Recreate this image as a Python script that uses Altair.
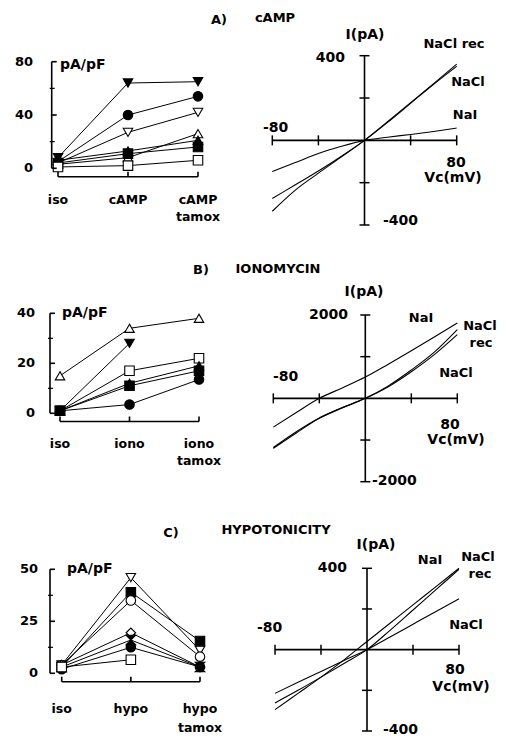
import altair as alt
import pandas as pd

# ---------------- data: left panels (current density, pA/pF) ----------------
A_cats = ["iso", "cAMP", "cAMP tamox"]
A_tri_down_filled = [8, 64, 65]
A_circle_filled = [5, 40, 54]
A_tri_down_open = [4, 27, 42]
A_tri_up_open = [3, 8, 26]
A_tri_up_filled = [6, 13, 21]
A_square_filled = [4, 11, 16]
A_square_open = [1, 2, 6]

B_cats = ["iso", "iono", "iono tamox"]
B_tri_up_open = [15, 34, 38]
B_tri_down_filled = [1, 28, None]
B_square_open = [1, 17, 22]
B_tri_up_filled = [1, 12, 19]
B_square_filled = [1, 11, 17]
B_circle_filled = [1, 3.5, 13.5]

C_cats = ["iso", "hypo", "hypo tamox"]
C_tri_down_open = [4, 46, 11]
C_square_filled = [3, 39, 15.5]
C_circle_open = [4, 35, 8]
C_diamond_open = [4, 19.5, 3]
C_hourglass_filled = [3, 16, 3]
C_circle_filled = [2, 12.5, 3]
C_square_open = [3, 6.5, None]

# ---------------- data: right panels (I-V curves) ----------------
V_mV = [-80, -60, -40, -20, 0, 20, 40, 60, 80]
A_NaCl_rec = [-335, -235, -155, -78, 0, 88, 178, 268, 360]
A_NaCl = [-275, -210, -145, -75, 0, 85, 175, 265, 350]
A_NaI = [-147, -105, -62, -28, 0, 15, 28, 42, 58]

B_NaI = [-690, -340, 0, 250, 510, 820, 1140, 1470, 1810]
B_NaCl_rec = [-1180, -800, -470, -220, 0, 300, 680, 1110, 1650]
B_NaCl = [-1200, -830, -480, -230, 0, 280, 640, 1050, 1530]

C_NaI = [-295, -215, -135, -50, 40, 130, 220, 310, 400]
C_NaCl_rec = [-262, -200, -135, -68, 0, 95, 195, 295, 395]
C_NaCl = [-215, -160, -107, -53, 0, 62, 125, 188, 250]

# ---------------- styling ----------------
FONT = "DejaVu Sans"
HOURGLASS = "M-1,-1L1,-1L-1,1L1,1Z"
MARKERS = {
    "tri_down_filled": ("triangle-down", "black"),
    "tri_down_open": ("triangle-down", "white"),
    "tri_up_filled": ("triangle-up", "black"),
    "tri_up_open": ("triangle-up", "white"),
    "circle_filled": ("circle", "black"),
    "circle_open": ("circle", "white"),
    "square_filled": ("square", "black"),
    "square_open": ("square", "white"),
    "diamond_open": ("diamond", "white"),
    "hourglass_filled": (HOURGLASS, "black"),
}

W, H = 490, 731


def series_frame(series):
    rows = []
    for key, vals in series:
        shape, fill = MARKERS[key]
        for i, v in enumerate(vals):
            if v is None:
                continue
            rows.append(dict(s=key, i=i, v=v, shape=shape, fill=fill))
    return pd.DataFrame(rows)


def text_layer(rows, size, align="center"):
    df = pd.DataFrame(rows, columns=["t", "px", "py"])
    return alt.Chart(df).mark_text(
        font=FONT, fontWeight="bold", fontSize=size, align=align, baseline="middle", color="black"
    ).encode(
        x=alt.X("px:Q", scale=None, axis=None),
        y=alt.Y("py:Q", scale=None, axis=None),
        text="t:N",
    )


def left_panel(cats, series, ymax, major, minor, L):
    n = len(cats)
    xs = alt.Scale(domain=[0, n - 1], range=[L["x0"], L["x1"]], nice=False, zero=False)
    ys = alt.Scale(domain=[0, ymax], range=[L["y0"], L["y1"]], nice=False, zero=False)
    df = series_frame(series)
    X = alt.X("i:Q", scale=xs, axis=None)
    Y = alt.Y("v:Q", scale=ys, axis=None)
    layers = []
    layers.append(alt.Chart(df).mark_line(color="black", strokeWidth=1).encode(X, Y, detail="s:N"))
    layers.append(
        alt.Chart(df).mark_point(filled=True, size=90, stroke="black", strokeWidth=1.1, opacity=1).encode(
            X, Y, shape=alt.Shape("shape:N", scale=None), fill=alt.Fill("fill:N", scale=None)
        )
    )
    # y axis
    ext = pd.DataFrame({"lo": [0], "hi": [ymax]})
    layers.append(alt.Chart(ext).mark_rule(color="black", strokeWidth=1.6).encode(
        x=alt.value(L["ax"]), y=alt.Y("lo:Q", scale=ys, axis=None), y2="hi:Q"))
    mj = pd.DataFrame({"v": major, "t": [str(m) for m in major]})
    layers.append(alt.Chart(mj).mark_rule(color="black", strokeWidth=1.6).encode(
        x=alt.value(L["ax"]), x2=alt.value(L["ax"] + 5), y=alt.Y("v:Q", scale=ys, axis=None)))
    mn = pd.DataFrame({"v": minor})
    layers.append(alt.Chart(mn).mark_rule(color="black", strokeWidth=1.2).encode(
        x=alt.value(L["ax"] - 2), x2=alt.value(L["ax"] + 3), y=alt.Y("v:Q", scale=ys, axis=None)))
    layers.append(alt.Chart(mj).mark_text(font=FONT, fontWeight="bold", fontSize=13, align="right",
                                          baseline="middle").encode(
        x=alt.value(L["lab_r"]), y=alt.Y("v:Q", scale=ys, axis=None), text="t:N"))
    # x axis
    xext = pd.DataFrame({"lo": [0], "hi": [n - 1]})
    layers.append(alt.Chart(xext).mark_rule(color="black", strokeWidth=1.6).encode(
        x=alt.X("lo:Q", scale=xs, axis=None), x2="hi:Q", y=alt.value(L["xa"])))
    parts = [c.split(" ") for c in cats]
    xl = pd.DataFrame({"i": list(range(n)),
                       "l1": [p[0] for p in parts],
                       "l2": [p[1] if len(p) > 1 else "" for p in parts]})
    layers.append(alt.Chart(xl).mark_rule(color="black", strokeWidth=1.6).encode(
        x=alt.X("i:Q", scale=xs, axis=None), y=alt.value(L["xa"]), y2=alt.value(L["xa"] - 5)))
    layers.append(alt.Chart(xl).mark_text(font=FONT, fontWeight="bold", fontSize=12.5, baseline="middle").encode(
        x=alt.X("i:Q", scale=xs, axis=None), y=alt.value(L["l1"]), text="l1:N"))
    layers.append(alt.Chart(xl).mark_text(font=FONT, fontWeight="bold", fontSize=12.5, baseline="middle").encode(
        x=alt.X("i:Q", scale=xs, axis=None), y=alt.value(L["l2"]), text="l2:N"))
    layers.append(text_layer([("pA/pF", L["u_x"], L["u_y"])], 14, align="left"))
    return alt.layer(*layers)


def right_panel(traces, ymax, xticks, yticks, L, labels_c, labels_l, labels_r, series_labels):
    xs = alt.Scale(domain=[-80, 80], range=[L["xl"], L["xr"]], nice=False, zero=False)
    ys = alt.Scale(domain=[-ymax, ymax], range=[L["yb"], L["yt"]], nice=False, zero=False)
    rows = []
    for name, vals in traces:
        for v, i in zip(V_mV, vals):
            rows.append(dict(trace=name, V=v, I=i))
    df = pd.DataFrame(rows)
    x0 = (L["xl"] + L["xr"]) / 2
    y0 = (L["yb"] + L["yt"]) / 2
    layers = []
    layers.append(alt.Chart(df).mark_line(color="black", strokeWidth=1.1, interpolate="monotone").encode(
        x=alt.X("V:Q", scale=xs, axis=None), y=alt.Y("I:Q", scale=ys, axis=None), detail="trace:N",
        order="V:Q"))
    hx = pd.DataFrame({"lo": [-80], "hi": [80], "z": [0]})
    layers.append(alt.Chart(hx).mark_rule(color="black", strokeWidth=1.6).encode(
        x=alt.X("lo:Q", scale=xs, axis=None), x2="hi:Q", y=alt.Y("z:Q", scale=ys, axis=None)))
    vy = pd.DataFrame({"lo": [-ymax], "hi": [ymax], "z": [0]})
    layers.append(alt.Chart(vy).mark_rule(color="black", strokeWidth=1.6).encode(
        x=alt.X("z:Q", scale=xs, axis=None), y=alt.Y("lo:Q", scale=ys, axis=None), y2="hi:Q"))
    xt = pd.DataFrame({"v": xticks})
    layers.append(alt.Chart(xt).mark_rule(color="black", strokeWidth=1.5).encode(
        x=alt.X("v:Q", scale=xs, axis=None), y=alt.value(y0 - 5), y2=alt.value(y0 + 5)))
    yt = pd.DataFrame({"v": yticks})
    layers.append(alt.Chart(yt).mark_rule(color="black", strokeWidth=1.5).encode(
        y=alt.Y("v:Q", scale=ys, axis=None), x=alt.value(x0 - 5), x2=alt.value(x0 + 5)))
    layers.append(text_layer(labels_c, 14, "center"))
    layers.append(text_layer(labels_l, 14, "left"))
    layers.append(text_layer(labels_r, 14, "right"))
    layers.append(text_layer(series_labels, 13, "center"))
    return alt.layer(*layers)


# ---------------- layout (pixels inside the drawing area) ----------------
LA = dict(x0=50, x1=190, y0=160.3, y1=53.7, ax=43.7, lab_r=25, xa=168.7, l1=192, l2=209, u_x=52, u_y=57)
LB = dict(x0=52, x1=191, y0=405.3, y1=305.3, ax=42, lab_r=27, xa=413.5, l1=436, l2=453, u_x=54, u_y=305)
LC = dict(x0=53.7, x1=192, y0=665.3, y1=561.3, ax=42, lab_r=30, xa=673.7, l1=701, l2=720, u_x=59, u_y=561)

RA = dict(xl=264.3, xr=448.7, yb=217, yt=47.7)
RB = dict(xl=265.3, xr=449.3, yb=473.7, yt=307)
RC = dict(xl=267, xr=451, yb=723, yt=560.3)

panels = [
    left_panel(A_cats, [("tri_down_filled", A_tri_down_filled), ("circle_filled", A_circle_filled),
                        ("tri_down_open", A_tri_down_open), ("tri_up_open", A_tri_up_open),
                        ("tri_up_filled", A_tri_up_filled), ("square_filled", A_square_filled),
                        ("square_open", A_square_open)],
               80, [0, 40, 80], [20, 60], LA),
    left_panel(B_cats, [("tri_up_open", B_tri_up_open), ("tri_down_filled", B_tri_down_filled),
                        ("square_open", B_square_open), ("tri_up_filled", B_tri_up_filled),
                        ("square_filled", B_square_filled), ("circle_filled", B_circle_filled)],
               40, [0, 20, 40], [10, 30], LB),
    left_panel(C_cats, [("tri_down_open", C_tri_down_open), ("square_filled", C_square_filled),
                        ("circle_open", C_circle_open), ("diamond_open", C_diamond_open),
                        ("hourglass_filled", C_hourglass_filled), ("circle_filled", C_circle_filled),
                        ("square_open", C_square_open)],
               50, [0, 25, 50], [12.5, 37.5], LC),
    right_panel([("NaCl rec", A_NaCl_rec), ("NaCl", A_NaCl), ("NaI", A_NaI)], 400,
                [-80, -40, 40, 80], [-400, -200, 200, 400], RA,
                [("I(pA)", 357, 27), ("80", 448, 155), ("Vc(mV)", 445, 170)],
                [("-400", 375, 213), ("-80", 255, 120)],
                [("400", 337, 50)],
                [("NaCl rec", 446, 36), ("NaCl", 460, 74), ("NaI", 457, 107)]),
    right_panel([("NaI", B_NaI), ("NaCl rec", B_NaCl_rec), ("NaCl", B_NaCl)], 2000,
                [-80, -40, 40, 80], [-2000, -1000, 1000, 2000], RB,
                [("I(pA)", 356, 284), ("80", 442, 417), ("Vc(mV)", 448, 432)],
                [("-2000", 364, 473), ("-80", 265, 369)],
                [("2000", 340, 307)],
                [("NaI", 413, 310), ("NaCl", 472, 318), ("rec", 473, 335), ("NaCl", 448, 365)]),
    right_panel([("NaI", C_NaI), ("NaCl rec", C_NaCl_rec), ("NaCl", C_NaCl)], 400,
                [-80, -40, 40, 80], [-400, -200, 200, 400], RC,
                [("I(pA)", 368, 537), ("80", 447, 662), ("Vc(mV)", 453, 679)],
                [("-400", 375, 722), ("-80", 249, 620)],
                [("400", 339, 560)],
                [("NaI", 422, 552), ("NaCl", 470, 549), ("rec", 472, 566), ("NaCl", 458, 617)]),
    text_layer([("A)", 211, 12), ("cAMP", 267, 10), ("B)", 193, 262), ("IONOMYCIN", 270, 261),
                ("C)", 163, 525), ("HYPOTONICITY", 268, 522)], 13),
]

chart = alt.layer(*panels).resolve_scale(x="independent", y="independent").properties(
    width=W, height=H, autosize=alt.AutoSizeParams(type="none"), padding=0
).configure_view(stroke=None)

chart.save("out.html", embed_options={"renderer": "svg", "actions": False})
